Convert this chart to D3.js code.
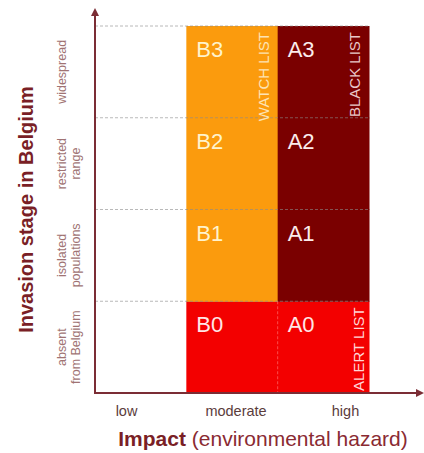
<!DOCTYPE html>
<html>
<head>
<meta charset="utf-8">
<script src="https://cdn.jsdelivr.net/npm/d3@7"></script>
<style>
  body { margin: 0; background: #fff; }
  text { font-family: Arial, "Liberation Sans", sans-serif; }
</style>
</head>
<body>
<script>
// impact columns (x) and invasion stages (y, bottom to top)
var impacts = ['low', 'moderate', 'high'];
var stages = ['absent', 'isolated', 'restricted', 'widespread'];
var stageLines = [['absent', 'from Belgium'], ['isolated', 'populations'], ['restricted', 'range'], ['widespread']];

// coloured cells
var cellCode   = ['B0', 'B1', 'B2', 'B3', 'A0', 'A1', 'A2', 'A3'];
var cellImpact = ['moderate', 'moderate', 'moderate', 'moderate', 'high', 'high', 'high', 'high'];
var cellStage  = ['absent', 'isolated', 'restricted', 'widespread', 'absent', 'isolated', 'restricted', 'widespread'];
var cellList   = ['alert', 'watch', 'watch', 'watch', 'alert', 'black', 'black', 'black'];

// list names written along the columns
var listNames  = ['WATCH LIST', 'BLACK LIST', 'ALERT LIST'];
var listKey    = ['watch', 'black', 'alert'];
var listImpact = ['moderate', 'high', 'high'];
var listTop    = ['widespread', 'widespread', 'absent'];

var fill = { watch: '#fb9b0d', black: '#7a0000', alert: '#f30000' };
var codeColor = { watch: '#fff3cc', black: '#fbecec', alert: '#ffe6e6' };
var listColor = { watch: '#fde3b3', black: '#e9c9c9', alert: '#ffd6d6' };
var axisColor = '#7b2d35';

var w = 424, h = 453;
var x0 = 95, x1 = 369, yTop = 26, yBot = 393;

var svg = d3.select('body').append('svg')
  .attr('width', w)
  .attr('height', h);

var x = d3.scaleBand().domain(impacts).range([x0, x1]);
var y = d3.scaleBand().domain(stages).range([yBot, yTop]);
var xTick = d3.scalePoint().domain(impacts).range([126, 345]);

// cells
var cells = cellCode.map(function(c, i) {
  return { code: c, impact: cellImpact[i], stage: cellStage[i], list: cellList[i] };
});

svg.selectAll('rect.cell')
  .data(cells)
  .enter()
  .append('rect')
    .attr('class', 'cell')
    .attr('x', function(d) { return x(d.impact); })
    .attr('y', function(d) { return y(d.stage); })
    .attr('width', x.bandwidth() + 0.5)
    .attr('height', y.bandwidth() + 0.5)
    .attr('fill', function(d) { return fill[d.list]; });

// dashed grid lines
var bounds = stages.map(function(s) { return y(s); });
svg.selectAll('line.grid')
  .data(bounds)
  .enter()
  .append('line')
    .attr('x1', x0).attr('x2', x1)
    .attr('y1', function(d) { return d; })
    .attr('y2', function(d) { return d; })
    .attr('stroke', '#8a8a8a')
    .attr('stroke-opacity', 0.6)
    .attr('stroke-dasharray', '3,2');

svg.append('line')
  .attr('x1', x('high')).attr('x2', x('high'))
  .attr('y1', y('absent')).attr('y2', yBot)
  .attr('stroke', '#ff8080')
  .attr('stroke-opacity', 0.6)
  .attr('stroke-dasharray', '3,2');

// cell codes
svg.selectAll('text.code')
  .data(cells)
  .enter()
  .append('text')
    .attr('class', 'code')
    .attr('x', function(d) { return x(d.impact) + 10; })
    .attr('y', function(d) { return y(d.stage) + 31; })
    .attr('font-size', 22)
    .attr('fill', function(d) { return codeColor[d.list]; })
    .text(function(d) { return d.code; });

// list labels
svg.selectAll('text.list')
  .data(listNames)
  .enter()
  .append('text')
    .attr('class', 'list')
    .attr('transform', function(d, i) {
      var xi = x(listImpact[i]) + x.bandwidth() - (listKey[i] == 'alert' ? 5 : 9);
      return 'translate(' + xi + ',' + (y(listTop[i]) + 6) + ') rotate(-90)';
    })
    .attr('text-anchor', 'end')
    .attr('font-size', 15)
    .attr('fill', function(d, i) { return listColor[listKey[i]]; })
    .text(function(d) { return d; });

// axes with arrows
svg.append('defs').append('marker')
  .attr('id', 'arrow')
  .attr('viewBox', '0 0 10 10')
  .attr('refX', 5).attr('refY', 5)
  .attr('markerWidth', 4).attr('markerHeight', 4)
  .attr('orient', 'auto')
  .append('path')
    .attr('d', 'M0,0 L10,5 L0,10 z')
    .attr('fill', axisColor);

svg.append('line')
  .attr('x1', x0).attr('y1', yBot)
  .attr('x2', x0).attr('y2', 12)
  .attr('stroke', axisColor).attr('stroke-width', 2)
  .attr('marker-end', 'url(#arrow)');

svg.append('line')
  .attr('x1', x0 - 1).attr('y1', yBot)
  .attr('x2', 420).attr('y2', yBot)
  .attr('stroke', axisColor).attr('stroke-width', 2)
  .attr('marker-end', 'url(#arrow)');

// x tick labels
var xAxis = svg.append('g')
  .attr('transform', 'translate(0,' + (yBot + 10) + ')')
  .call(d3.axisBottom(xTick).tickSize(0));
xAxis.select('.domain').remove();
xAxis.selectAll('text')
  .attr('font-size', 14.5)
  .attr('font-family', 'Arial, "Liberation Sans", sans-serif')
  .attr('fill', '#5b3c3c');

// y stage labels (rotated, two lines)
stageLines.forEach(function(lines, i) {
  var cy = y(stages[i]) + y.bandwidth() / 2;
  var g = svg.append('text')
    .attr('transform', 'translate(66,' + cy + ') rotate(-90)')
    .attr('text-anchor', 'middle')
    .attr('font-size', 12.5)
    .attr('fill', '#a07373');
  lines.forEach(function(l, j) {
    g.append('tspan')
      .attr('x', 0)
      .attr('dy', j == 0 ? 0 : 14)
      .text(l);
  });
});

// axis titles
svg.append('text')
  .attr('transform', 'translate(33,' + ((yTop + yBot) / 2 ) + ') rotate(-90)')
  .attr('text-anchor', 'middle')
  .attr('font-size', 20)
  .attr('font-weight', 'bold')
  .attr('fill', '#7a1f26')
  .text('Invasion stage in Belgium');

var xt = svg.append('text')
  .attr('x', 263)
  .attr('y', 446)
  .attr('text-anchor', 'middle')
  .attr('font-size', 21)
  .attr('fill', '#8a2a32');
xt.append('tspan').attr('font-weight', 'bold').attr('fill', '#7a1f26').text('Impact');
xt.append('tspan').text(' (environmental hazard)');
</script>
</body>
</html>
